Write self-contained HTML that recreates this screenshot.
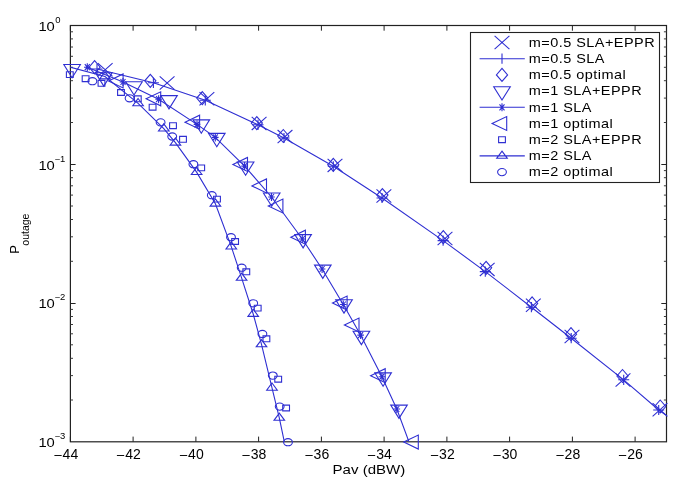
<!DOCTYPE html>
<html><head><meta charset="utf-8"><style>
html,body{margin:0;padding:0;background:#fff;}
body{width:685px;height:490px;overflow:hidden;}
svg{display:block;will-change:transform;font-family:"Liberation Sans",sans-serif;}
</style></head><body>
<svg width="685" height="490" viewBox="0 0 685 490">
<defs><clipPath id="clp"><rect x="70.4" y="25.5" width="596.1" height="416.3"/></clipPath></defs>
<rect width="685" height="490" fill="#fff"/>
<rect x="70.4" y="25.5" width="596.1" height="416.3" fill="none" stroke="#222" stroke-width="1.2"/><path d="M70.4 441.8v-5.2M70.4 25.5v5.2M133.1 441.8v-5.2M133.1 25.5v5.2M195.9 441.8v-5.2M195.9 25.5v5.2M258.6 441.8v-5.2M258.6 25.5v5.2M321.4 441.8v-5.2M321.4 25.5v5.2M384.1 441.8v-5.2M384.1 25.5v5.2M446.9 441.8v-5.2M446.9 25.5v5.2M509.6 441.8v-5.2M509.6 25.5v5.2M572.4 441.8v-5.2M572.4 25.5v5.2M635.1 441.8v-5.2M635.1 25.5v5.2M70.4 164.5h5.2M666.5 164.5h-5.2M70.4 303.5h5.2M666.5 303.5h-5.2" stroke="#222" stroke-width="1" fill="none"/><path d="M70.4 122.5h2.6M666.5 122.5h-2.6M70.4 98.1h2.6M666.5 98.1h-2.6M70.4 80.7h2.6M666.5 80.7h-2.6M70.4 67.3h2.6M666.5 67.3h-2.6M70.4 56.3h2.6M666.5 56.3h-2.6M70.4 47.0h2.6M666.5 47.0h-2.6M70.4 38.9h2.6M666.5 38.9h-2.6M70.4 31.8h2.6M666.5 31.8h-2.6M70.4 261.3h2.6M666.5 261.3h-2.6M70.4 236.8h2.6M666.5 236.8h-2.6M70.4 219.5h2.6M666.5 219.5h-2.6M70.4 206.0h2.6M666.5 206.0h-2.6M70.4 195.1h2.6M666.5 195.1h-2.6M70.4 185.8h2.6M666.5 185.8h-2.6M70.4 177.7h2.6M666.5 177.7h-2.6M70.4 170.6h2.6M666.5 170.6h-2.6M70.4 400.0h2.6M666.5 400.0h-2.6M70.4 375.6h2.6M666.5 375.6h-2.6M70.4 358.3h2.6M666.5 358.3h-2.6M70.4 344.8h2.6M666.5 344.8h-2.6M70.4 333.8h2.6M666.5 333.8h-2.6M70.4 324.5h2.6M666.5 324.5h-2.6M70.4 316.5h2.6M666.5 316.5h-2.6M70.4 309.4h2.6M666.5 309.4h-2.6" stroke="#3a3a3a" stroke-width="1" fill="none"/>
<g stroke="#2f2fd2" stroke-width="1.1" fill="none">
<path d="M94.6 60.7L100.2 67.2L94.6 73.7L89.0 67.2ZM150.3 74.3L155.9 80.8L150.3 87.3L144.7 80.8ZM202.3 91.6L207.9 98.1L202.3 104.6L196.7 98.1ZM256.8 116.6L262.4 123.1L256.8 129.6L251.2 123.1ZM283.3 129.5L288.9 136.0L283.3 142.5L277.7 136.0ZM333.3 158.3L338.9 164.8L333.3 171.3L327.7 164.8ZM382.4 188.6L388.0 195.1L382.4 201.6L376.8 195.1ZM443.3 230.7L448.9 237.2L443.3 243.7L437.7 237.2ZM486.1 261.3L491.7 267.8L486.1 274.3L480.5 267.8ZM532.1 296.9L537.7 303.4L532.1 309.9L526.5 303.4ZM571.0 327.7L576.6 334.2L571.0 340.7L565.4 334.2ZM622.5 369.5L628.1 376.0L622.5 382.5L616.9 376.0ZM660.2 400.0L665.8 406.5L660.2 413.0L654.6 406.5Z"/><path d="M97.8 63.2L112.6 76.4M97.8 76.4L112.6 63.2M159.7 76.4L174.5 89.6M159.7 89.6L174.5 76.4M199.5 92.1L214.3 105.3M199.5 105.3L214.3 92.1M251.7 116.8L266.5 130.0M251.7 130.0L266.5 116.8M277.6 130.0L292.4 143.2M277.6 143.2L292.4 130.0M327.6 158.8L342.4 172.0M327.6 172.0L342.4 158.8M376.5 189.4L391.3 202.6M376.5 202.6L391.3 189.4M437.6 231.9L452.4 245.1M437.6 245.1L452.4 231.9M479.8 262.8L494.6 276.0M479.8 276.0L494.6 262.8M525.9 298.6L540.7 311.8M525.9 311.8L540.7 298.6M564.6 329.9L579.4 343.1M564.6 343.1L579.4 329.9M615.6 373.4L630.4 386.6M615.6 386.6L630.4 373.4M652.6 403.1L667.4 416.3M652.6 416.3L667.4 403.1"/><path d="M97.0 69.0L153.4 82.8L205.3 100.3L258.0 124.8L284.0 138.0L333.3 166.3L382.0 198.0L443.1 240.6L485.3 271.6L531.4 307.2L571.2 338.2L623.7 379.8L658.7 410.0L690.0 432.0" clip-path="url(#clp)"/><path d="M91.5 69.0H102.5M97.0 63.9V74.1M147.9 82.8H158.9M153.4 77.7V87.9M199.8 100.3H210.8M205.3 95.2V105.4M252.5 124.8H263.5M258.0 119.7V129.9M278.5 138.0H289.5M284.0 132.9V143.1M327.8 166.3H338.8M333.3 161.2V171.4M376.5 198.0H387.5M382.0 192.9V203.1M437.6 240.6H448.6M443.1 235.5V245.7M479.8 271.6H490.8M485.3 266.5V276.7M525.9 307.2H536.9M531.4 302.1V312.3M565.7 338.2H576.7M571.2 333.1V343.3M618.2 379.8H629.2M623.7 374.7V384.9M653.2 410.0H664.2M658.7 404.9V415.1"/><path d="M63.8 64.5H80.4L72.1 77.8ZM95.5 72.8H112.1L103.8 86.1ZM125.7 81.7H142.3L134.0 95.0ZM160.7 95.6H177.3L169.0 108.9ZM193.0 119.9H209.6L201.3 133.2ZM208.5 133.4H225.1L216.8 146.7ZM237.3 162.0H253.9L245.6 175.3ZM263.4 193.0H280.0L271.7 206.3ZM294.8 234.6H311.4L303.1 247.9ZM314.5 265.1H331.1L322.8 278.4ZM335.7 299.8H352.3L344.0 313.1ZM353.1 331.3H369.7L361.4 344.6ZM374.8 372.9H391.4L383.1 386.2ZM390.7 405.1H407.3L399.0 418.4Z"/><path d="M87.3 67.2L123.0 82.0L158.6 99.2L197.0 124.4L215.3 137.4L244.6 166.1L271.5 197.0L302.3 239.0L322.1 269.0L343.3 304.5L360.6 335.1L381.9 376.7L396.8 409.0L412.0 450.0" clip-path="url(#clp)"/><path d="M84.0 67.2H90.6M87.3 63.2V71.2M84.8 64.2L89.8 70.2M84.8 70.2L89.8 64.2M119.7 82.0H126.3M123.0 78.0V86.0M120.5 79.0L125.5 85.0M120.5 85.0L125.5 79.0M155.3 99.2H161.9M158.6 95.2V103.2M156.1 96.2L161.1 102.2M156.1 102.2L161.1 96.2M193.7 124.4H200.3M197.0 120.4V128.4M194.5 121.4L199.5 127.4M194.5 127.4L199.5 121.4M212.0 137.4H218.6M215.3 133.4V141.4M212.8 134.4L217.8 140.4M212.8 140.4L217.8 134.4M241.3 166.1H247.9M244.6 162.1V170.1M242.1 163.1L247.1 169.1M242.1 169.1L247.1 163.1M268.2 197.0H274.8M271.5 193.0V201.0M269.0 194.0L274.0 200.0M269.0 200.0L274.0 194.0M299.0 239.0H305.6M302.3 235.0V243.0M299.8 236.0L304.8 242.0M299.8 242.0L304.8 236.0M318.8 269.0H325.4M322.1 265.0V273.0M319.6 266.0L324.6 272.0M319.6 272.0L324.6 266.0M340.0 304.5H346.6M343.3 300.5V308.5M340.8 301.5L345.8 307.5M340.8 307.5L345.8 301.5M357.3 335.1H363.9M360.6 331.1V339.1M358.1 332.1L363.1 338.1M358.1 338.1L363.1 332.1M378.6 376.7H385.2M381.9 372.7V380.7M379.4 373.7L384.4 379.7M379.4 379.7L384.4 373.7M393.5 409.0H400.1M396.8 405.0V413.0M394.3 406.0L399.3 412.0M394.3 412.0L399.3 406.0"/><path d="M86.2 67.2a1.1 1.1 0 1 0 2.2 0a1.1 1.1 0 1 0 -2.2 0ZM121.9 82.0a1.1 1.1 0 1 0 2.2 0a1.1 1.1 0 1 0 -2.2 0ZM157.5 99.2a1.1 1.1 0 1 0 2.2 0a1.1 1.1 0 1 0 -2.2 0ZM195.9 124.4a1.1 1.1 0 1 0 2.2 0a1.1 1.1 0 1 0 -2.2 0ZM214.2 137.4a1.1 1.1 0 1 0 2.2 0a1.1 1.1 0 1 0 -2.2 0ZM243.5 166.1a1.1 1.1 0 1 0 2.2 0a1.1 1.1 0 1 0 -2.2 0ZM270.4 197.0a1.1 1.1 0 1 0 2.2 0a1.1 1.1 0 1 0 -2.2 0ZM301.2 239.0a1.1 1.1 0 1 0 2.2 0a1.1 1.1 0 1 0 -2.2 0ZM321.0 269.0a1.1 1.1 0 1 0 2.2 0a1.1 1.1 0 1 0 -2.2 0ZM342.2 304.5a1.1 1.1 0 1 0 2.2 0a1.1 1.1 0 1 0 -2.2 0ZM359.5 335.1a1.1 1.1 0 1 0 2.2 0a1.1 1.1 0 1 0 -2.2 0ZM380.8 376.7a1.1 1.1 0 1 0 2.2 0a1.1 1.1 0 1 0 -2.2 0ZM395.7 409.0a1.1 1.1 0 1 0 2.2 0a1.1 1.1 0 1 0 -2.2 0Z" fill="#2f2fd2" stroke="none"/><path d="M108.5 80.9L123.1 73.9V87.9ZM146.1 98.8L160.7 91.8V105.8ZM185.0 122.2L199.6 115.2V129.2ZM232.9 164.4L247.5 157.4V171.4ZM251.9 185.9L266.5 178.9V192.9ZM268.3 206.0L282.9 199.0V213.0ZM290.8 237.2L305.4 230.2V244.2ZM332.5 303.1L347.1 296.1V310.1ZM344.4 325.0L359.0 318.0V332.0ZM370.6 375.7L385.2 368.7V382.7ZM403.7 442.1L418.3 435.1V449.1Z"/><path d="M66.4 71.7H73.2V77.5H66.4ZM82.2 75.8H89.0V81.6H82.2ZM98.1 80.4H104.9V86.2H98.1ZM117.6 89.6H124.4V95.4H117.6ZM134.4 95.9H141.2V101.7H134.4ZM149.2 104.3H156.0V110.1H149.2ZM169.6 122.8H176.4V128.6H169.6ZM179.6 136.4H186.4V142.2H179.6ZM197.8 165.0H204.6V170.8H197.8ZM213.6 196.2H220.4V202.0H213.6ZM231.7 238.6H238.5V244.4H231.7ZM242.9 268.9H249.7V274.7H242.9ZM254.3 305.2H261.1V311.0H254.3ZM263.0 335.9H269.8V341.7H263.0ZM274.8 376.3H281.6V382.1H274.8ZM282.7 405.1H289.5V410.9H282.7Z"/><path d="M60.0 64.4L105.0 76.5L138.1 103.3L163.8 128.6L175.4 142.7L196.6 172.1L215.4 203.7L231.3 246.6L241.6 277.9L253.2 314.0L261.5 344.4L272.0 387.8L279.3 417.9L287.5 457.0" clip-path="url(#clp)"/><path d="M105.0 71.7L110.3 78.9H99.7ZM138.1 98.5L143.4 105.7H132.8ZM163.8 123.8L169.1 131.0H158.5ZM175.4 137.9L180.7 145.1H170.1ZM196.6 167.3L201.9 174.5H191.3ZM215.4 198.9L220.7 206.1H210.1ZM231.3 241.8L236.6 249.0H226.0ZM241.6 273.1L246.9 280.3H236.3ZM253.2 309.2L258.5 316.4H247.9ZM261.5 339.6L266.8 346.8H256.2ZM272.0 383.0L277.3 390.2H266.7ZM279.3 413.1L284.6 420.3H274.0Z"/><path d="M88.0 81.2a4.4 3.6 0 1 0 8.8 0a4.4 3.6 0 1 0 -8.8 0ZM125.2 98.3a4.4 3.6 0 1 0 8.8 0a4.4 3.6 0 1 0 -8.8 0ZM156.2 122.4a4.4 3.6 0 1 0 8.8 0a4.4 3.6 0 1 0 -8.8 0ZM167.8 136.5a4.4 3.6 0 1 0 8.8 0a4.4 3.6 0 1 0 -8.8 0ZM189.0 164.2a4.4 3.6 0 1 0 8.8 0a4.4 3.6 0 1 0 -8.8 0ZM207.4 195.2a4.4 3.6 0 1 0 8.8 0a4.4 3.6 0 1 0 -8.8 0ZM226.6 237.2a4.4 3.6 0 1 0 8.8 0a4.4 3.6 0 1 0 -8.8 0ZM237.3 267.7a4.4 3.6 0 1 0 8.8 0a4.4 3.6 0 1 0 -8.8 0ZM248.8 303.3a4.4 3.6 0 1 0 8.8 0a4.4 3.6 0 1 0 -8.8 0ZM258.0 334.0a4.4 3.6 0 1 0 8.8 0a4.4 3.6 0 1 0 -8.8 0ZM268.4 375.6a4.4 3.6 0 1 0 8.8 0a4.4 3.6 0 1 0 -8.8 0ZM275.3 406.6a4.4 3.6 0 1 0 8.8 0a4.4 3.6 0 1 0 -8.8 0ZM283.6 442.2a4.4 3.6 0 1 0 8.8 0a4.4 3.6 0 1 0 -8.8 0Z"/>
</g>
<rect x="470.5" y="32.5" width="189.0" height="150.0" fill="#fff" stroke="#222" stroke-width="1.1"/><path d="M494.6 35.9L509.4 49.1M494.6 49.1L509.4 35.9M479.6 58.7H524.8M496.5 58.7H507.5M502.0 53.6V63.8M502.0 68.4L507.6 74.9L502.0 81.4L496.4 74.9ZM493.7 86.7H510.3L502.0 100.0ZM479.6 107.3H524.8M498.7 107.3H505.3M502.0 103.3V111.3M499.5 104.3L504.5 110.3M499.5 110.3L504.5 104.3M492.1 123.5L506.7 116.5V130.5ZM498.6 136.8H505.4V142.6H498.6ZM479.6 155.9H524.8M502.0 151.1L507.3 158.3H496.7ZM497.6 172.1a4.4 3.6 0 1 0 8.8 0a4.4 3.6 0 1 0 -8.8 0Z" stroke="#2f2fd2" stroke-width="1.1" fill="none"/><path d="M500.9 107.3a1.1 1.1 0 1 0 2.2 0a1.1 1.1 0 1 0 -2.2 0Z" fill="#2f2fd2"/><g font-size="12.6" letter-spacing="0.4" fill="#000"><text x="0" y="46.8" transform="translate(528.8 0) scale(1.15 1)">m=0.5 SLA+EPPR</text><text x="0" y="63.0" transform="translate(528.8 0) scale(1.15 1)">m=0.5 SLA</text><text x="0" y="79.2" transform="translate(528.8 0) scale(1.15 1)">m=0.5 optimal</text><text x="0" y="95.4" transform="translate(528.8 0) scale(1.15 1)">m=1 SLA+EPPR</text><text x="0" y="111.6" transform="translate(528.8 0) scale(1.15 1)">m=1 SLA</text><text x="0" y="127.8" transform="translate(528.8 0) scale(1.15 1)">m=1 optimal</text><text x="0" y="144.0" transform="translate(528.8 0) scale(1.15 1)">m=2 SLA+EPPR</text><text x="0" y="160.2" transform="translate(528.8 0) scale(1.15 1)">m=2 SLA</text><text x="0" y="176.4" transform="translate(528.8 0) scale(1.15 1)">m=2 optimal</text></g>
<g font-size="13.4" fill="#000"><text x="0" y="458.6" font-size="14" transform="translate(70.4 0) scale(1.0 1)" text-anchor="middle">44</text><text x="0" y="459.8" transform="translate(62.4 0) scale(1.12 1)" text-anchor="end">−</text><text x="0" y="458.6" font-size="14" transform="translate(133.1 0) scale(1.0 1)" text-anchor="middle">42</text><text x="0" y="459.8" transform="translate(125.1 0) scale(1.12 1)" text-anchor="end">−</text><text x="0" y="458.6" font-size="14" transform="translate(195.9 0) scale(1.0 1)" text-anchor="middle">40</text><text x="0" y="459.8" transform="translate(187.9 0) scale(1.12 1)" text-anchor="end">−</text><text x="0" y="458.6" font-size="14" transform="translate(258.6 0) scale(1.0 1)" text-anchor="middle">38</text><text x="0" y="459.8" transform="translate(250.6 0) scale(1.12 1)" text-anchor="end">−</text><text x="0" y="458.6" font-size="14" transform="translate(321.4 0) scale(1.0 1)" text-anchor="middle">36</text><text x="0" y="459.8" transform="translate(313.4 0) scale(1.12 1)" text-anchor="end">−</text><text x="0" y="458.6" font-size="14" transform="translate(384.1 0) scale(1.0 1)" text-anchor="middle">34</text><text x="0" y="459.8" transform="translate(376.1 0) scale(1.12 1)" text-anchor="end">−</text><text x="0" y="458.6" font-size="14" transform="translate(446.9 0) scale(1.0 1)" text-anchor="middle">32</text><text x="0" y="459.8" transform="translate(438.9 0) scale(1.12 1)" text-anchor="end">−</text><text x="0" y="458.6" font-size="14" transform="translate(509.6 0) scale(1.0 1)" text-anchor="middle">30</text><text x="0" y="459.8" transform="translate(501.6 0) scale(1.12 1)" text-anchor="end">−</text><text x="0" y="458.6" font-size="14" transform="translate(572.4 0) scale(1.0 1)" text-anchor="middle">28</text><text x="0" y="459.8" transform="translate(564.4 0) scale(1.12 1)" text-anchor="end">−</text><text x="0" y="458.6" font-size="14" transform="translate(635.1 0) scale(1.0 1)" text-anchor="middle">26</text><text x="0" y="459.8" transform="translate(627.1 0) scale(1.12 1)" text-anchor="end">−</text><text x="0" y="30.9" transform="translate(38.4 0) scale(1.1 1)">10</text><text x="0" y="23.0" font-size="8.6" transform="translate(55.3 0) scale(1.1 1)">0</text><text x="0" y="169.7" transform="translate(38.4 0) scale(1.1 1)">10</text><text x="0" y="161.8" font-size="8.6" transform="translate(54.5 0) scale(1.1 1)">−1</text><text x="0" y="308.4" transform="translate(38.4 0) scale(1.1 1)">10</text><text x="0" y="300.5" font-size="8.6" transform="translate(54.5 0) scale(1.1 1)">−2</text><text x="0" y="447.2" transform="translate(38.4 0) scale(1.1 1)">10</text><text x="0" y="439.3" font-size="8.6" transform="translate(54.5 0) scale(1.1 1)">−3</text></g>
<text x="0" y="473.8" font-size="13.3" fill="#000" transform="translate(332.6 0) scale(1.13 1)">Pav (dBW)</text>
<g transform="translate(18.6 253.8) rotate(-90)" fill="#000"><text x="0" y="0" font-size="13">P</text><text x="8.1" y="10" font-size="10.5">outage</text></g>
</svg>
</body></html>
